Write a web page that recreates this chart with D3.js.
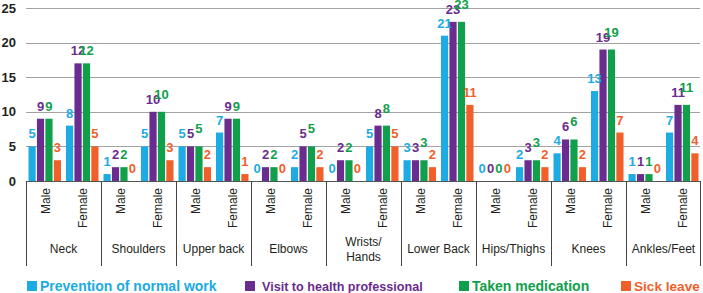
<!DOCTYPE html>
<html>
<head>
<meta charset="utf-8">
<script src="https://cdn.jsdelivr.net/npm/d3@7"></script>
<style>
  html, body { margin: 0; padding: 0; background: #fff; }
  svg { display: block; font-family: "Liberation Sans", Arial, sans-serif; }
</style>
</head>
<body>
<div id="chart"></div>
<script>
const categories = ["Neck", "Shoulders", "Upper back", "Elbows", "Wrists/\nHands", "Lower Back", "Hips/Thighs", "Knees", "Ankles/Feet"];
const genders = ["Male", "Female"];
const seriesNames = ["Prevention of normal work", "Visit to health professional", "Taken medication", "Sick leave"];
const yTicks = [0, 5, 10, 15, 20, 25];

// values in Male, Female order per category
const prevention = [5, 8, 1, 5, 5, 7, 0, 2, 0, 5, 3, 21, 0, 2, 4, 13, 1, 7];
const visitBars = [9, 17, 2, 10, 5, 9, 2, 5, 3, 8, 3, 23, 0, 3, 6, 19, 1, 11];
const visitLabels = [9, 12, 2, 10, 5, 9, 2, 5, 2, 8, 3, 23, 0, 3, 6, 19, 1, 11];
const medicationBars = [9, 17, 2, 10, 5, 9, 2, 5, 3, 8, 3, 23, 0, 3, 6, 19, 1, 11];
const medicationLabels = [9, 12, 2, 10, 5, 9, 2, 5, 2, 8, 3, 23, 0, 3, 6, 19, 1, 11];
const sickLeave = [3, 5, 0, 3, 2, 1, 0, 2, 0, 5, 2, 11, 0, 2, 2, 7, 0, 4];

const colors = ["#1cabe2", "#6a2c8e", "#10a04c", "#f15f2b"];
const barSeries = [prevention, visitBars, medicationBars, sickLeave];
const labelSeries = [prevention, visitLabels, medicationLabels, sickLeave];

const W = 703, H = 293;
const plotLeft = 26, plotRight = 701, plotTop = 8, base = 181;

const svg = d3.select("#chart").append("svg").attr("width", W).attr("height", H);

const x0 = d3.scaleBand().domain(categories).range([plotLeft, plotRight]);
const x1 = d3.scaleBand().domain(genders).range([0, x0.bandwidth()]);
const x2 = d3.scaleBand().domain(seriesNames).range([2.5, x1.bandwidth() - 2.5]).paddingInner(0.15);
const y = d3.scaleLinear().domain([0, 25]).range([base, plotTop]);

// gridlines
svg.append("g").selectAll("line").data(yTicks.filter(d => d > 0)).join("line")
  .attr("x1", plotLeft).attr("x2", plotRight - 1)
  .attr("y1", d => Math.round(y(d)) + 0.5).attr("y2", d => Math.round(y(d)) + 0.5)
  .attr("stroke", "#a3a3a3").attr("stroke-width", 1);

// y tick labels
svg.append("g").selectAll("text").data(yTicks).join("text")
  .attr("x", 16).attr("y", d => y(d)).attr("dy", "0.36em")
  .attr("text-anchor", "end").attr("font-size", 13).attr("font-weight", 700)
  .attr("fill", "#231f20").text(d => d);

// rows of bar data
const rows = [];
categories.forEach((c, ci) => {
  genders.forEach((g, gi) => {
    const idx = ci * 2 + gi;
    seriesNames.forEach((s, si) => {
      rows.push({ c, g, s, si, v: barSeries[si][idx], lab: labelSeries[si][idx] });
    });
  });
});
const bx = d => x0(d.c) + x1(d.g) + x2(d.s);

svg.append("g").selectAll("rect").data(rows).join("rect")
  .attr("x", bx).attr("width", x2.bandwidth())
  .attr("y", d => y(d.v)).attr("height", d => base - y(d.v))
  .attr("fill", d => colors[d.si]);

svg.append("g").selectAll("text").data(rows).join("text")
  .attr("x", d => bx(d) + x2.bandwidth() / 2)
  .attr("y", d => y(d.v) - 8 - (d.si === 2 && d.lab >= 3 && d.lab !== 9 && d.lab !== 12 ? 5 : 0))
  .attr("text-anchor", "middle").attr("font-size", 13).attr("font-weight", 700)
  .attr("fill", d => colors[d.si]).text(d => d.lab);

// axis baseline
svg.append("line").attr("x1", plotLeft).attr("x2", plotRight - 1)
  .attr("y1", base + 0.5).attr("y2", base + 0.5)
  .attr("stroke", "#555").attr("stroke-width", 1);

// category separators
const seps = categories.map(c => x0(c)).concat([plotRight - 1]);
svg.append("g").selectAll("line").data(seps).join("line")
  .attr("x1", d => Math.round(d) + 0.5).attr("x2", d => Math.round(d) + 0.5)
  .attr("y1", base).attr("y2", 266)
  .attr("stroke", "#444").attr("stroke-width", 1);

// gender labels
const gl = svg.append("g");
categories.forEach(c => {
  genders.forEach(g => {
    const cx = x0(c) + x1(g) + x1.bandwidth() / 2 + 5;
    gl.append("text")
      .attr("transform", `translate(${cx},188) rotate(-90)`)
      .attr("text-anchor", "end").attr("font-size", 12).attr("fill", "#231f20")
      .text(g);
  });
});

// category labels
svg.append("g").selectAll("text").data(categories).join("text")
  .attr("y", d => d.includes("\n") ? 246 : 253)
  .attr("text-anchor", "middle").attr("font-size", 12).attr("fill", "#231f20")
  .each(function (d) {
    const t = d3.select(this);
    d.split("\n").forEach((line, i) => {
      t.append("tspan").attr("x", x0(d) + x0.bandwidth() / 2).attr("dy", i ? 15 : 0).text(line);
    });
  });

// legend
const legendX = [27, 245, 459, 621];
const legendSize = [14, 12.6, 14, 13.6];
const lg = svg.append("g").selectAll("g").data(seriesNames).join("g")
  .attr("transform", (d, i) => `translate(${legendX[i]},281)`);
lg.append("rect").attr("width", 10).attr("height", 10).attr("fill", (d, i) => colors[i]);
lg.append("text").attr("x", (d, i) => i === 1 ? 17 : 13).attr("y", 10)
  .attr("font-size", (d, i) => legendSize[i]).attr("font-weight", 700)
  .attr("fill", (d, i) => colors[i]).text(d => d);
</script>
</body>
</html>
